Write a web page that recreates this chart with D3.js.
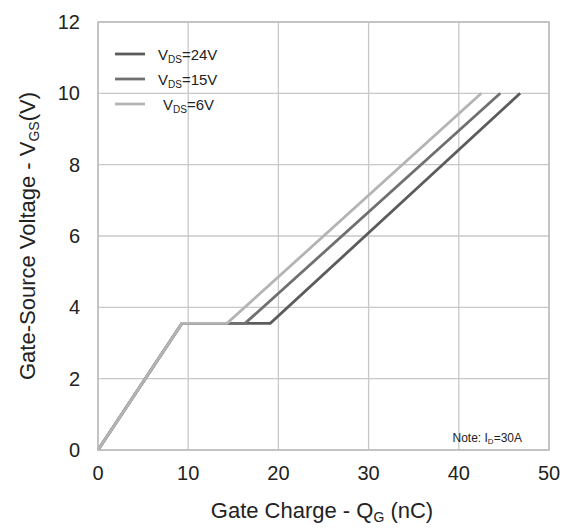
<!DOCTYPE html>
<html>
<head>
<meta charset="utf-8">
<script src="https://cdn.jsdelivr.net/npm/d3@7"></script>
<style>
  body { margin: 0; background: #fff; }
  text { font-family: "Liberation Sans", Arial, sans-serif; fill: #222; }
</style>
</head>
<body>
<div id="container"></div>
<script>
// gate charge curves (Qg in nC, Vgs in V)
var seriesNames = ["24V", "15V", "6V"]
var qg24 = [0, 9.3, 19.1, 46.8]
var vgs24 = [0, 3.55, 3.55, 10]
var qg15 = [0, 9.3, 16.3, 44.6]
var vgs15 = [0, 3.55, 3.55, 10]
var qg6 = [0, 9.3, 14.3, 42.5]
var vgs6 = [0, 3.55, 3.55, 10]
var xTicks = [0, 10, 20, 30, 40, 50]
var yTicks = [0, 2, 4, 6, 8, 10, 12]
var colours = ["#5c5c5c", "#707070", "#b4b4b4"]

function drawChart() {
  var width = 565
  var height = 528
  var margin = {top: 22, right: 16, bottom: 78, left: 98}

  var svg = d3.select("#container")
    .append("svg")
    .attr("width", width)
    .attr("height", height)

  var x = d3.scaleLinear().domain([0, 50]).range([margin.left, width - margin.right])
  var y = d3.scaleLinear().domain([0, 12]).range([height - margin.bottom, margin.top])

  // grid
  var grid = svg.append("g")
  grid.selectAll("line.vx")
    .data(xTicks)
    .enter()
    .append("line")
    .attr("x1", (d) => x(d))
    .attr("x2", (d) => x(d))
    .attr("y1", y(0))
    .attr("y2", y(12))
    .attr("stroke", "#c8c8c8")
    .attr("stroke-width", 1.3)
  grid.selectAll("line.hy")
    .data(yTicks)
    .enter()
    .append("line")
    .attr("x1", x(0))
    .attr("x2", x(50))
    .attr("y1", (d) => y(d))
    .attr("y2", (d) => y(d))
    .attr("stroke", "#c8c8c8")
    .attr("stroke-width", 1.3)

  // tick labels
  svg.append("g")
    .selectAll("text")
    .data(xTicks)
    .enter()
    .append("text")
    .attr("x", (d) => x(d))
    .attr("y", y(0) + 30)
    .attr("text-anchor", "middle")
    .style("font-size", "20px")
    .text((d) => d)
  svg.append("g")
    .selectAll("text")
    .data(yTicks)
    .enter()
    .append("text")
    .attr("x", x(0) - 18)
    .attr("y", (d) => y(d) + 7)
    .attr("text-anchor", "end")
    .style("font-size", "20px")
    .text((d) => d)

  // curves
  var series = [
    {name: seriesNames[0], q: qg24, v: vgs24},
    {name: seriesNames[1], q: qg15, v: vgs15},
    {name: seriesNames[2], q: qg6, v: vgs6}
  ]
  var line = d3.line()
    .x((d) => x(d[0]))
    .y((d) => y(d[1]))

  svg.append("g")
    .selectAll("path")
    .data(series)
    .enter()
    .append("path")
    .attr("d", (s) => line(d3.zip(s.q, s.v)))
    .attr("fill", "none")
    .attr("stroke", (s, i) => colours[i])
    .attr("stroke-width", 2.8)

  // legend
  var legend = svg.append("g")
  series.forEach(function(s, i) {
    var ly = 54 + i * 25
    legend.append("line")
      .attr("x1", 115)
      .attr("x2", 145)
      .attr("y1", ly)
      .attr("y2", ly)
      .attr("stroke", colours[i])
      .attr("stroke-width", 2.8)
    var t = legend.append("text")
      .attr("x", i == 2 ? 163 : 158)
      .attr("y", ly + 6)
      .style("font-size", "15px")
    t.append("tspan").text("V")
    t.append("tspan").attr("dy", 3).style("font-size", "10px").text("DS")
    t.append("tspan").attr("dy", -3).text("=" + s.name)
  })

  // note
  var note = svg.append("text")
    .attr("x", 522)
    .attr("y", 442)
    .attr("text-anchor", "end")
    .style("font-size", "12px")
  note.append("tspan").text("Note: I")
  note.append("tspan").attr("dy", 2).style("font-size", "8px").text("D")
  note.append("tspan").attr("dy", -2).text("=30A")

  // frame
  svg.append("rect")
    .attr("x", x(0))
    .attr("y", y(12))
    .attr("width", x(50) - x(0))
    .attr("height", y(0) - y(12))
    .attr("fill", "none")
    .attr("stroke", "#bdbdbd")
    .attr("stroke-width", 1.5)

  // axis titles
  var xt = svg.append("text")
    .attr("x", 322)
    .attr("y", 518)
    .attr("text-anchor", "middle")
    .style("font-size", "22px")
  xt.append("tspan").text("Gate Charge - Q")
  xt.append("tspan").attr("dy", 4).style("font-size", "14px").text("G")
  xt.append("tspan").attr("dy", -4).text(" (nC)")

  var yt = svg.append("text")
    .attr("transform", "translate(35," + ((y(0) + y(12)) / 2) + ") rotate(-90)")
    .attr("text-anchor", "middle")
    .style("font-size", "22px")
  yt.append("tspan").text("Gate-Source Voltage - V")
  yt.append("tspan").attr("dy", 4).style("font-size", "14px").text("GS")
  yt.append("tspan").attr("dy", -4).text("(V)")
}

drawChart()
</script>
</body>
</html>
